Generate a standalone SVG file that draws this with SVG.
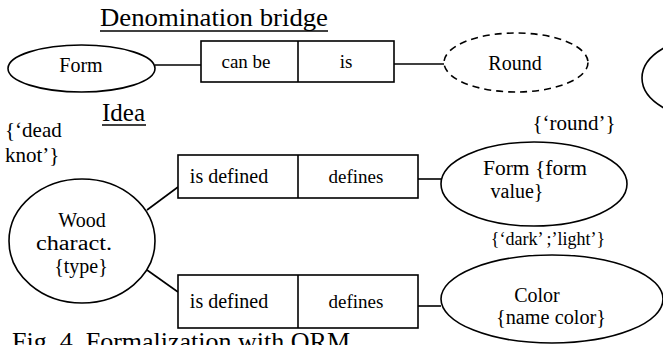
<svg xmlns="http://www.w3.org/2000/svg" width="663" height="345" viewBox="0 0 663 345">
<style>
  .shape { fill: #fff; stroke: #000; stroke-width: 1.6; }
  .dash { stroke-dasharray: 7 5; }
  .conn { stroke: #000; stroke-width: 1.6; fill: none; }
  text { fill: #000; font-family: "Liberation Serif", "Times New Roman", serif; }
  .t { font-size: 20px; text-anchor: middle; }
  .l { font-size: 21px; text-anchor: middle; }
  .b { font-size: 19px; text-anchor: middle; }
  .title { font-size: 25px; }
  .ul { stroke: #000; stroke-width: 1.6; }
</style>
<rect width="663" height="345" fill="#fff"/>

<g id="connectors">
  <line class="conn" x1="155" y1="65" x2="201" y2="65"/>
  <line class="conn" x1="394" y1="64" x2="444" y2="64"/>
  <line class="conn" x1="147" y1="210" x2="178" y2="187"/>
  <line class="conn" x1="147" y1="270" x2="178" y2="292"/>
  <line class="conn" x1="418" y1="179" x2="441" y2="179"/>
  <line class="conn" x1="418" y1="306" x2="441" y2="306"/>
</g>

<g id="title-denomination">
  <text class="title" x="100" y="26" textLength="228" lengthAdjust="spacingAndGlyphs">Denomination bridge</text>
  <line class="ul" x1="100" y1="31" x2="328" y2="31"/>
</g>
<g id="title-idea">
  <text class="title" x="102" y="121">Idea</text>
  <line class="ul" x1="102" y1="125" x2="146" y2="125"/>
</g>

<g id="node-form">
  <ellipse class="shape" cx="81.5" cy="68.5" rx="73.5" ry="23.5"/>
  <text class="t" x="81" y="72">Form</text>
</g>
<g id="node-canbe-is">
  <rect class="shape" x="201" y="41" width="193" height="41"/>
  <line class="conn" x1="298" y1="41" x2="298" y2="82"/>
  <text class="b" x="246" y="68">can be</text>
  <text class="b" x="346" y="68">is</text>
</g>
<g id="node-round">
  <ellipse class="shape dash" cx="516" cy="62.5" rx="72" ry="29.5"/>
  <text class="t" x="515" y="70">Round</text>
</g>
<g id="node-partial">
  <ellipse class="shape" cx="715" cy="78" rx="73" ry="42"/>
</g>

<g id="label-deadknot">
  <text style="font-size:21px" x="5" y="137">{‘dead</text>
  <text style="font-size:21px" x="5" y="162">knot’}</text>
</g>

<g id="node-wood">
  <ellipse class="shape" cx="82" cy="241" rx="73" ry="62"/>
  <text class="t" x="82" y="227">Wood</text>
  <text class="t" x="74" y="250" textLength="76" lengthAdjust="spacingAndGlyphs">charact.</text>
  <text class="t" x="81" y="273">{type}</text>
</g>

<g id="node-defined-upper">
  <rect class="shape" x="178" y="155" width="240" height="43"/>
  <line class="conn" x1="298" y1="155" x2="298" y2="198"/>
  <text class="t" x="229" y="183">is defined</text>
  <text class="b" x="356" y="183">defines</text>
</g>

<g id="node-defined-lower">
  <rect class="shape" x="178" y="275" width="240" height="53"/>
  <line class="conn" x1="298" y1="275" x2="298" y2="328"/>
  <text class="t" x="229" y="308">is defined</text>
  <text class="b" x="356" y="308">defines</text>
</g>

<g id="label-round">
  <text class="l" x="574" y="130">{‘round’}</text>
</g>

<g id="node-formvalue">
  <ellipse class="shape" cx="534" cy="184" rx="93" ry="42"/>
  <text class="l" x="535" y="175" textLength="104" lengthAdjust="spacingAndGlyphs" style="font-size:20px">Form {form</text>
  <text class="t" x="517" y="198">value}</text>
</g>

<g id="label-darklight">
  <text style="font-size:18px;text-anchor:middle" x="548" y="245">{‘dark’ ;’light’}</text>
</g>

<g id="node-color">
  <ellipse class="shape" cx="552" cy="299" rx="111" ry="44"/>
  <text class="t" x="537" y="302">Color</text>
  <text class="t" x="551" y="324" textLength="110" lengthAdjust="spacingAndGlyphs">{name color}</text>
</g>

<g id="caption">
  <text style="font-size:26px" x="12" y="350">Fig. 4. Formalization with ORM</text>
</g>
</svg>
